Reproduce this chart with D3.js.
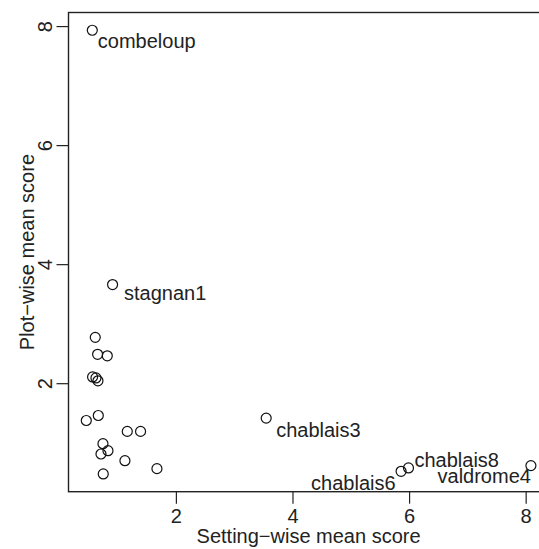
<!DOCTYPE html>
<html>
<head>
<meta charset="utf-8">
<script src="https://cdn.jsdelivr.net/npm/d3@7"></script>
<style>
  html, body { margin: 0; padding: 0; background: #fff; }
  svg { display: block; font-family: "Liberation Sans", Arial, Helvetica, sans-serif; }
</style>
</head>
<body>
<svg id="chart" width="539" height="549"></svg>
<script>
// ---- data ----
const sites = ["combeloup", "stagnan1", "", "", "", "", "", "", "", "", "", "", "", "", "", "", "", "", "chablais3", "chablais6", "chablais8", "valdrome4"];
const settingMean = [0.566, 0.914, 0.617, 0.657, 0.823, 0.571, 0.629, 0.663, 0.463, 0.669, 1.166, 1.394, 0.749, 0.835, 0.715, 1.126, 1.675, 0.754, 3.549, 5.863, 5.990, 8.090];
const plotMean    = [7.93, 3.657, 2.77, 2.485, 2.46, 2.105, 2.088, 2.04, 1.373, 1.457, 1.19, 1.19, 0.983, 0.866, 0.81, 0.698, 0.564, 0.475, 1.413, 0.519, 0.576, 0.615];
const xTicks = [2, 4, 6, 8];
const yTicks = [2, 4, 6, 8];
const xTitle = "Setting\u2212wise mean score";
const yTitle = "Plot\u2212wise mean score";

// label placement (layout, pixels relative to point)
const labelPlacement = {
  "combeloup": {dx: 5.5, dy: 17.5, anchor: "start"},
  "stagnan1":  {dx: 11.5, dy: 15.5, anchor: "start"},
  "chablais3": {dx: 10, dy: 18.5, anchor: "start"},
  "chablais6": {dx: -5.5, dy: 18.5, anchor: "end"},
  "chablais8": {dx: 6, dy: -1, anchor: "start"},
  "valdrome4": {dx: 0, dy: 17.5, anchor: "end"}
};

// ---- layout ----
const svg = d3.select("#chart");
const pLeft = 68.5, pRight = 548.7, pTop = 12.5, pBottom = 491.7;
const fontSize = 20;

function rExtent(v) {
  const [a, b] = d3.extent(v);
  const pad = (b - a) * 0.04;
  return [a - pad, b + pad];
}
const x = d3.scaleLinear().domain(rExtent(settingMean)).range([pLeft, pRight]);
const y = d3.scaleLinear().domain(rExtent(plotMean)).range([pBottom, pTop]);

// box
svg.append("rect")
  .attr("x", pLeft).attr("y", pTop)
  .attr("width", pRight - pLeft).attr("height", pBottom - pTop)
  .attr("fill", "none").attr("stroke", "#222").attr("stroke-width", 1.4);

// x axis
const xAxis = d3.axisBottom(x).tickValues(xTicks).tickSize(12).tickPadding(5).tickFormat(d3.format("d"));
const gx = svg.append("g").attr("transform", `translate(0,${pBottom})`).call(xAxis);
gx.select(".domain").remove();
gx.selectAll(".tick line").attr("stroke", "#222").attr("stroke-width", 1.2);
gx.selectAll(".tick text").attr("font-size", fontSize).attr("fill", "#222")
  .attr("font-family", "Liberation Sans, Arial, sans-serif")
  .attr("dy", null).attr("y", 31);

// y axis (rotated labels)
const yAxis = d3.axisLeft(y).tickValues(yTicks).tickSize(12).tickFormat(d3.format("d"));
const gy = svg.append("g").attr("transform", `translate(${pLeft},0)`).call(yAxis);
gy.select(".domain").remove();
gy.selectAll(".tick line").attr("stroke", "#222").attr("stroke-width", 1.2);
gy.selectAll(".tick text")
  .attr("font-size", fontSize).attr("fill", "#222")
  .attr("font-family", "Liberation Sans, Arial, sans-serif")
  .attr("x", null).attr("dy", null)
  .attr("text-anchor", "middle")
  .attr("transform", `translate(${51.7 - pLeft},0) rotate(-90)`);

// axis titles
svg.append("text")
  .attr("x", (pLeft + pRight) / 2).attr("y", 543)
  .attr("text-anchor", "middle").attr("font-size", fontSize).attr("fill", "#222")
  .text(xTitle);
svg.append("text")
  .attr("transform", `translate(34,${(pTop + pBottom) / 2}) rotate(-90)`)
  .attr("text-anchor", "middle").attr("font-size", fontSize).attr("fill", "#222")
  .text(yTitle);

// points
const pts = sites.map((s, i) => ({name: s, x: settingMean[i], y: plotMean[i]}));
svg.append("g").selectAll("circle").data(pts).join("circle")
  .attr("cx", d => x(d.x)).attr("cy", d => y(d.y)).attr("r", 5)
  .attr("fill", "none").attr("stroke", "#111").attr("stroke-width", 1.2);

// labels
svg.append("g").selectAll("text").data(pts.filter(d => d.name)).join("text")
  .attr("x", d => x(d.x) + labelPlacement[d.name].dx)
  .attr("y", d => y(d.y) + labelPlacement[d.name].dy)
  .attr("text-anchor", d => labelPlacement[d.name].anchor)
  .attr("font-size", fontSize).attr("fill", "#222")
  .text(d => d.name);
</script>
</body>
</html>
